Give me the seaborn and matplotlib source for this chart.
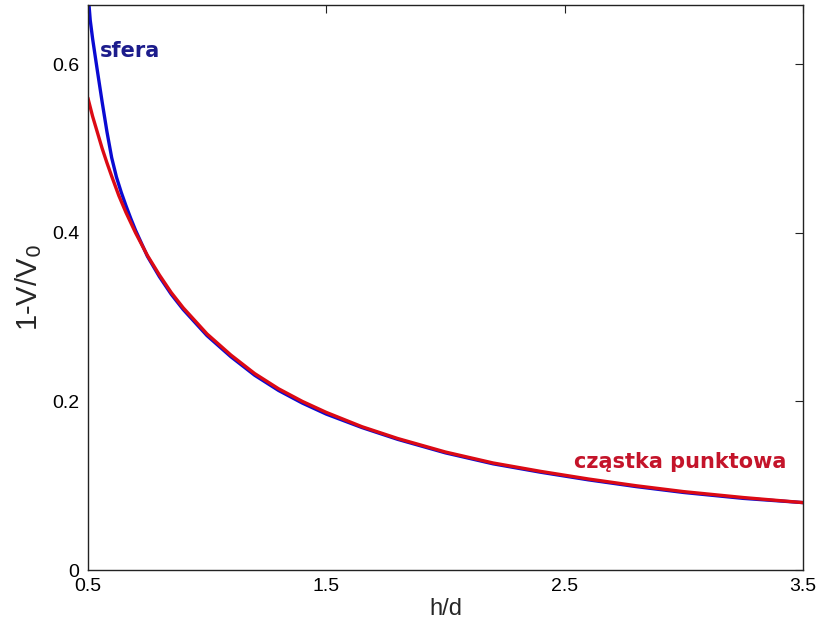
import numpy as np
import pandas as pd
import matplotlib
matplotlib.use("Agg")
import matplotlib.pyplot as plt
import seaborn as sns

# --- data ---
sphere_x = [0.502, 0.51, 0.52, 0.53, 0.54, 0.56, 0.58, 0.60, 0.62, 0.64, 0.66, 0.68,
            0.70, 0.75, 0.80, 0.85, 0.90, 1.0, 1.1, 1.2, 1.3, 1.4, 1.5, 1.65, 1.8, 2.0,
            2.2, 2.4, 2.6, 2.8, 3.0, 3.25, 3.5]
sphere_y = [0.680, 0.652, 0.630, 0.611, 0.592, 0.555, 0.520, 0.489, 0.466, 0.448, 0.432,
            0.417, 0.403, 0.372, 0.348, 0.327, 0.309, 0.278, 0.253, 0.231, 0.213, 0.198,
            0.185, 0.169, 0.155, 0.139, 0.126, 0.116, 0.107, 0.099, 0.092, 0.085, 0.080]

point_x = [0.5, 0.52, 0.54, 0.56, 0.58, 0.60, 0.63, 0.66, 0.70, 0.75, 0.80, 0.85, 0.90,
           1.0, 1.1, 1.2, 1.3, 1.4, 1.5, 1.65, 1.8, 2.0, 2.2, 2.4, 2.6, 2.8, 3.0, 3.25, 3.5]
point_y = [0.560, 0.538, 0.519, 0.500, 0.483, 0.467, 0.444, 0.424, 0.400, 0.373, 0.350,
           0.329, 0.311, 0.280, 0.255, 0.233, 0.215, 0.200, 0.187, 0.170, 0.156, 0.140,
           0.127, 0.117, 0.108, 0.100, 0.093, 0.086, 0.080]

series_names = ["sfera", "cząstka punktowa"]
series_colors = ["#0a0ad2", "#dc0a14"]
label_colors = ["#1c1c8c", "#c4142a"]

x_ticks = [0.5, 1.5, 2.5, 3.5]
x_tick_labels = ["0.5", "1.5", "2.5", "3.5"]
y_ticks = [0, 0.2, 0.4, 0.6]
y_tick_labels = ["0", "0.2", "0.4", "0.6"]

df = pd.concat([
    pd.DataFrame({"h/d": sphere_x, "val": sphere_y, "series": series_names[0]}),
    pd.DataFrame({"h/d": point_x, "val": point_y, "series": series_names[1]}),
], ignore_index=True)

sns.set_style("white")
plt.rcParams["font.family"] = ["Liberation Sans", "DejaVu Sans"]

fig = plt.figure(figsize=(8.21, 6.32), dpi=100)
ax = fig.add_axes([0.107, 0.098, 0.871, 0.894])

sns.lineplot(data=df, x="h/d", y="val", hue="series",
             palette=dict(zip(series_names, series_colors)),
             estimator=None, sort=False, linewidth=2.4, legend=False, ax=ax)

ax.set_xlim(0.5, 3.5)
ax.set_ylim(0, 0.67)
ax.set_xticks(x_ticks)
ax.set_xticklabels(x_tick_labels)
ax.set_yticks(y_ticks)
ax.set_yticklabels(y_tick_labels)
ax.tick_params(direction="in", length=6, width=0.8, colors="#222222",
               labelsize=14, top=True, right=True, labelcolor="black", pad=6)
for s in ax.spines.values():
    s.set_color("#222222")
    s.set_linewidth(1.0)

ax.set_xlabel("h/d", fontsize=17, labelpad=2)
ax.set_ylabel(r"1-V/V$_0$", fontsize=21, labelpad=6)

ax.text(0.55, 0.615, series_names[0], color=label_colors[0], fontsize=15,
        fontweight="bold", family="DejaVu Sans", va="center", ha="left")
ax.text(2.54, 0.128, series_names[1], color=label_colors[1], fontsize=15,
        fontweight="bold", family="DejaVu Sans", va="center", ha="left")

fig.savefig("out.png", dpi=100)
